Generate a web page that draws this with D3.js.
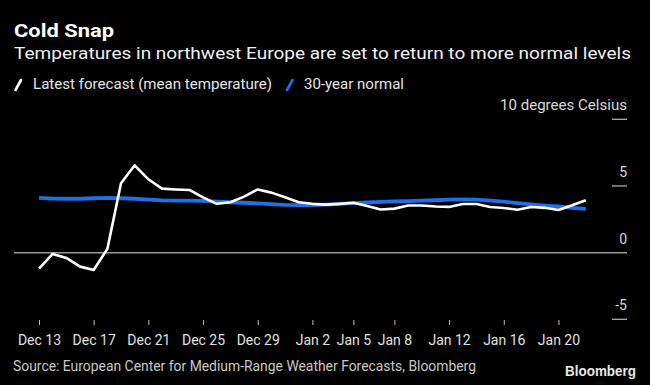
<!DOCTYPE html>
<html><head><meta charset="utf-8">
<script src="https://cdn.jsdelivr.net/npm/d3@7"></script>
<style>
html,body{margin:0;padding:0;background:#000;}
svg{display:block;}
text{font-family:Roboto,"Noto Sans",sans-serif;}
</style></head>
<body>
<script>
const startDate = "2022-12-13";
const forecast = [-1.2, -0.1, -0.4, -1.05, -1.3, 0.28, 5.2, 6.55, 5.5, 4.8, 4.74, 4.7, 4.15, 3.66, 3.78, 4.2, 4.74, 4.5, 4.15, 3.78, 3.66, 3.6, 3.66, 3.74, 3.5, 3.23, 3.3, 3.53, 3.53, 3.46, 3.43, 3.65, 3.65, 3.42, 3.35, 3.22, 3.42, 3.36, 3.2, 3.55, 3.93];
const normal = [4.1, 4.05, 4.04, 4.04, 4.08, 4.1, 4.08, 4.04, 3.98, 3.92, 3.9, 3.9, 3.88, 3.82, 3.78, 3.74, 3.7, 3.64, 3.58, 3.56, 3.56, 3.6, 3.66, 3.72, 3.76, 3.8, 3.84, 3.87, 3.9, 3.93, 3.97, 4.0, 3.98, 3.9, 3.82, 3.72, 3.62, 3.53, 3.46, 3.36, 3.28];
const xTickDates = ["2022-12-13","2022-12-17","2022-12-21","2022-12-25","2022-12-29","2023-01-02","2023-01-05","2023-01-08","2023-01-12","2023-01-16","2023-01-20"];
const yTicks = [10, 5, 0, -5];
const yTickLabels = ["10 degrees Celsius", "5", "0", "-5"];
const seriesNames = ["Latest forecast (mean temperature)", "30-year normal"];
const seriesColors = ["#ffffff", "#1f6fe6"];

const W = 650, H = 385;
const parse = d3.utcParse("%Y-%m-%d");
const t0 = parse(startDate);
const dates = forecast.map((_, i) => d3.utcDay.offset(t0, i));

const svg = d3.select("body").append("svg").attr("width", W).attr("height", H);
svg.append("rect").attr("width", W).attr("height", H).attr("fill", "#000");

const x = d3.scaleUtc().domain([t0, parse("2023-01-22")]).range([39, 585.8]);
const y = d3.scaleLinear().domain([-5, 10]).range([319.3, 119.3]);

function fit(sel, w) { sel.attr("textLength", w).attr("lengthAdjust", "spacingAndGlyphs"); return sel; }

// Title & subtitle
fit(svg.append("text").attr("x", 14).attr("y", 37).attr("fill", "#fff")
  .attr("font-size", 18).attr("font-weight", 700).text("Cold Snap"), 100);
fit(svg.append("text").attr("x", 14).attr("y", 59).attr("fill", "#f0f0f0")
  .attr("font-size", 17).text("Temperatures in northwest Europe are set to return to more normal levels"), 617);

// Legend
const lg = [{x0: 15.5, tx: 33, tw: 239}, {x0: 287, tx: 304, tw: 100}];
lg.forEach((l, i) => {
  svg.append("line").attr("x1", l.x0).attr("y1", 90).attr("x2", l.x0 + 5.5).attr("y2", 80)
    .attr("stroke", seriesColors[i]).attr("stroke-width", 2.6).attr("stroke-linecap", "round");
  fit(svg.append("text").attr("x", l.tx).attr("y", 89).attr("fill", "#e6e6e6")
    .attr("font-size", 14).text(seriesNames[i]), l.tw);
});

// Y axis (right side)
const yAxis = svg.append("g");
yTicks.forEach((v, i) => {
  yAxis.append("line").attr("x1", v === 0 ? 14 : 612).attr("x2", 627)
    .attr("y1", y(v)).attr("y2", y(v))
    .attr("stroke", v === 0 ? "#9a9a9a" : "#bdbdbd").attr("stroke-width", v === 0 ? 1.5 : 1.2);
  const tx = yAxis.append("text").attr("x", 627).attr("y", y(v) - 9).attr("text-anchor", "end")
    .attr("fill", "#d9d9d9").attr("font-size", 14).text(yTickLabels[i]);
  if (i === 0) fit(tx, 127);
});

// X axis
const xAxis = d3.axisBottom(x).tickValues(xTickDates.map(parse))
  .tickFormat(d3.utcFormat("%b %-d")).tickSize(5).tickPadding(10);
const gx = svg.append("g").attr("transform", "translate(0,320)").call(xAxis);
gx.select(".domain").remove();
gx.selectAll(".tick line").attr("stroke", "#bdbdbd").attr("stroke-width", 1);
gx.selectAll(".tick text").attr("fill", "#e0e0e0").attr("font-size", 14)
  .attr("font-family", "Roboto, 'Noto Sans', sans-serif").attr("dy", "0.71em");

// Lines
const line = d3.line().x((d, i) => x(dates[i])).y(d => y(d));
svg.append("path").datum(normal).attr("d", line).attr("fill", "none")
  .attr("stroke", seriesColors[1]).attr("stroke-width", 3.8).attr("stroke-linejoin", "round");
svg.append("path").datum(forecast).attr("d", line).attr("fill", "none")
  .attr("stroke", seriesColors[0]).attr("stroke-width", 2.6).attr("stroke-linejoin", "round");

// Footer
fit(svg.append("text").attr("x", 13).attr("y", 371).attr("fill", "#c8c8c8")
  .attr("font-size", 14).text("Source: European Center for Medium-Range Weather Forecasts, Bloomberg"), 463);
fit(svg.append("text").attr("x", 565).attr("y", 376).attr("fill", "#e8e8e8")
  .attr("font-size", 15).attr("font-weight", 700).style("font-family", "'Liberation Sans', Arial, sans-serif")
  .text("Bloomberg"), 71);
</script>
</body></html>
